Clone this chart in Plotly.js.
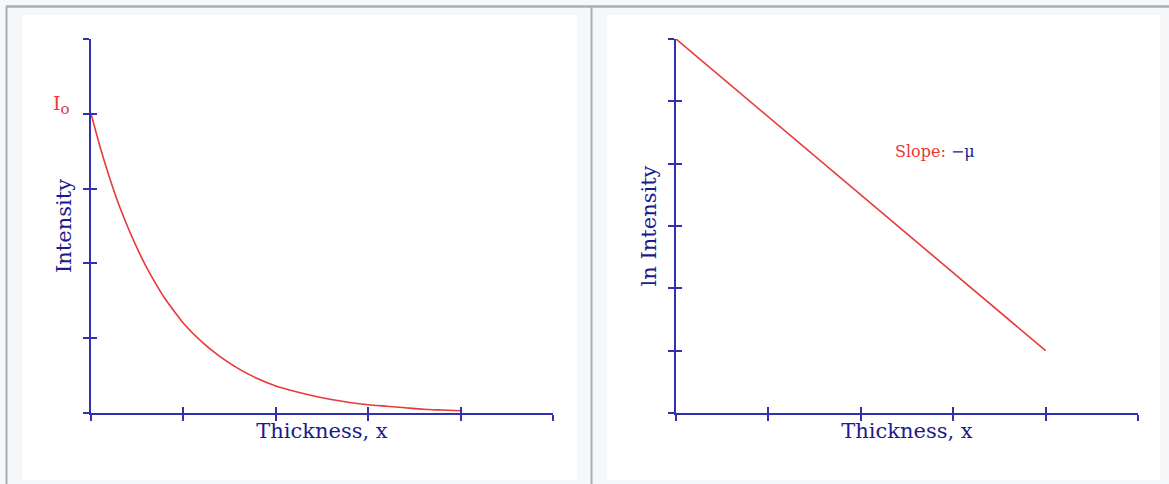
<!DOCTYPE html>
<html>
<head>
<meta charset="utf-8">
<script src="https://cdn.plot.ly/plotly-3.0.1.min.js"></script>
<style>
  html, body { margin: 0; padding: 0; background: #f6f7f9; }
  #chart { width: 1169px; height: 484px; }
</style>
</head>
<body>
<div id="chart"></div>
<script>
// Beam attenuation: intensity vs. thickness (linear and log scale)
const thickness = [0, 0.1, 0.2, 0.3, 0.4, 0.5, 0.6, 0.7, 0.8, 0.9, 1.0, 1.2, 1.4, 1.6, 1.8, 2.0, 2.2, 2.4, 2.6, 2.8, 3.0, 3.2, 3.4, 3.6, 3.8, 4.0];
const intensity = [4.00, 3.55, 3.15, 2.79, 2.48, 2.20, 1.95, 1.73, 1.53, 1.36, 1.20, 0.95, 0.75, 0.59, 0.46, 0.36, 0.29, 0.23, 0.18, 0.14, 0.11, 0.09, 0.07, 0.05, 0.04, 0.03];

const logThickness = [0, 4];
const logIntensity = [6, 1];

const tickX = [0, 1, 2, 3, 4, 5];
const tickYLinear = [0, 1, 2, 3, 4, 5];
const tickYLog = [0, 1, 2, 3, 4, 5, 6];

const axisBlue = '#3030b0';
const textBlue = '#1b1b8c';
const curveRed = '#e8383a';
const serif = 'DejaVu Serif, Liberation Serif, serif';

const W = 1169, H = 484;
const leftX = [91 / W, 553 / W];
const rightX = [676 / W, 1138 / W];
const plotY = [1 - 413 / H, 1 - 39 / H];

function baseAxis(extra) {
  return Object.assign({
    showgrid: false,
    zeroline: false,
    showticklabels: false,
    ticks: 'outside',
    ticklen: 6,
    tickwidth: 2,
    tickcolor: axisBlue,
    tickmode: 'array',
    fixedrange: true
  }, extra);
}

const traces = [
  {
    x: thickness, y: intensity,
    xaxis: 'x', yaxis: 'y',
    mode: 'lines', line: { color: curveRed, width: 1.6, shape: 'spline', smoothing: 0.6 },
    hoverinfo: 'skip', showlegend: false
  },
  {
    x: logThickness, y: logIntensity,
    xaxis: 'x2', yaxis: 'y2',
    mode: 'lines', line: { color: curveRed, width: 1.6 },
    hoverinfo: 'skip', showlegend: false
  },
  // empty traces that bring up the overlay axes carrying the inner tick halves
  { x: [null], y: [null], xaxis: 'x3', yaxis: 'y3', mode: 'lines', hoverinfo: 'skip', showlegend: false },
  { x: [null], y: [null], xaxis: 'x4', yaxis: 'y4', mode: 'lines', hoverinfo: 'skip', showlegend: false }
];

const titleFont = { family: serif, size: 21, color: textBlue };

const layout = {
  width: W, height: H,
  margin: { l: 0, r: 0, t: 0, b: 0 },
  paper_bgcolor: '#f6f7f9',
  plot_bgcolor: 'rgba(0,0,0,0)',
  showlegend: false,

  // left panel: linear intensity
  xaxis: baseAxis({
    domain: leftX, range: [0, 5], anchor: 'y', tickvals: tickX,
    showline: true, linecolor: axisBlue, linewidth: 2,
    title: { text: 'Thickness, x', font: titleFont, standoff: 3 }
  }),
  yaxis: baseAxis({
    domain: plotY, range: [0, 5], anchor: 'x', tickvals: tickYLinear,
    showline: true, linecolor: axisBlue, linewidth: 2,
    title: { text: 'Intensity', font: titleFont, standoff: 6 }
  }),
  xaxis3: baseAxis({ overlaying: 'x', anchor: 'y3', range: [0, 5], tickvals: tickX, ticks: 'inside' }),
  yaxis3: baseAxis({ overlaying: 'y', anchor: 'x3', range: [0, 5], tickvals: tickYLinear, ticks: 'inside' }),

  // right panel: log intensity
  xaxis2: baseAxis({
    domain: rightX, range: [0, 5], anchor: 'y2', tickvals: tickX,
    showline: true, linecolor: axisBlue, linewidth: 2,
    title: { text: 'Thickness, x', font: titleFont, standoff: 3 }
  }),
  yaxis2: baseAxis({
    domain: plotY, range: [0, 6], anchor: 'x2', tickvals: tickYLog,
    showline: true, linecolor: axisBlue, linewidth: 2,
    title: { text: 'ln Intensity', font: titleFont, standoff: 6 }
  }),
  xaxis4: baseAxis({ overlaying: 'x2', anchor: 'y4', range: [0, 5], tickvals: tickX, ticks: 'inside' }),
  yaxis4: baseAxis({ overlaying: 'y2', anchor: 'x4', range: [0, 6], tickvals: tickYLog, ticks: 'inside' }),

  shapes: [
    // white panels
    { type: 'rect', xref: 'paper', yref: 'paper', layer: 'below',
      x0: 22 / W, x1: 577 / W, y0: 1 - 480 / H, y1: 1 - 15 / H,
      fillcolor: '#ffffff', line: { width: 0 } },
    { type: 'rect', xref: 'paper', yref: 'paper', layer: 'below',
      x0: 607 / W, x1: 1160 / W, y0: 1 - 480 / H, y1: 1 - 15 / H,
      fillcolor: '#ffffff', line: { width: 0 } },
    // frame rules
    { type: 'line', xref: 'paper', yref: 'paper', layer: 'below',
      x0: 6 / W, x1: 1, y0: 1 - 6.5 / H, y1: 1 - 6.5 / H,
      line: { color: '#a9adb3', width: 2.5 } },
    { type: 'line', xref: 'paper', yref: 'paper', layer: 'below',
      x0: 6.5 / W, x1: 6.5 / W, y0: 0, y1: 1 - 6.5 / H,
      line: { color: '#a9adb3', width: 2 } },
    { type: 'line', xref: 'paper', yref: 'paper', layer: 'below',
      x0: 591.5 / W, x1: 591.5 / W, y0: 0, y1: 1 - 6.5 / H,
      line: { color: '#a9adb3', width: 2 } }
  ],

  annotations: [
    { xref: 'x', yref: 'y', x: thickness[0], y: intensity[0],
      text: 'I<sub><span style="font-size:15px">o</span></sub>', showarrow: false,
      xanchor: 'right', yanchor: 'bottom',
      xshift: -19, yshift: -6,
      font: { family: serif, size: 19, color: curveRed } },
    { xref: 'x2', yref: 'y2', x: 2.8, y: 4.2,
      text: 'Slope: <span style="color:' + textBlue + '">−μ</span>', showarrow: false,
      xanchor: 'center', yanchor: 'middle',
      font: { family: serif, size: 16, color: curveRed } }
  ]
};

Plotly.newPlot('chart', traces, layout, { staticPlot: true, displayModeBar: false });
</script>
</body>
</html>
